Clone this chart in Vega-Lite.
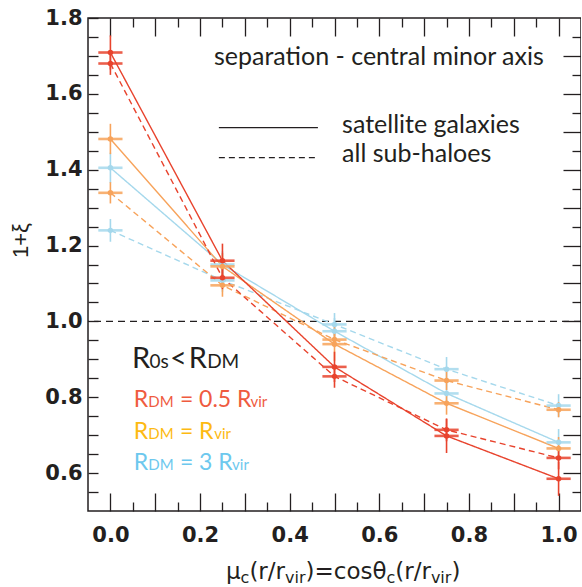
{
  "$schema": "https://vega.github.io/schema/vega-lite/v6.json",
  "autosize": {"type": "none"},
  "padding": {"left": 88, "top": 18, "right": 0, "bottom": 76},
  "width": 493,
  "height": 493,
  "config": {
    "view": {"stroke": "#231F20", "strokeWidth": 1.5},
    "axis": {"grid": false, "domain": false, "tickColor": "#231F20", "tickWidth": 1.3, "labelColor": "#231F20", "title": null}
  },
  "resolve": {"axis": {"x": "independent", "y": "independent"}},
  "datasets": {
    "pts": [
      {"x": 0, "y": 1.405, "lo": 1.365, "hi": 1.445, "xl": -0.027, "xh": 0.027, "m": "3", "k": "sat"},
      {"x": 0.25, "y": 1.15, "lo": 1.115, "hi": 1.185, "xl": 0.223, "xh": 0.277, "m": "3", "k": "sat"},
      {"x": 0.5, "y": 0.974, "lo": 0.939, "hi": 1.009, "xl": 0.473, "xh": 0.527, "m": "3", "k": "sat"},
      {"x": 0.75, "y": 0.81, "lo": 0.78, "hi": 0.84, "xl": 0.723, "xh": 0.777, "m": "3", "k": "sat"},
      {"x": 1.0, "y": 0.681, "lo": 0.646, "hi": 0.716, "xl": 0.973, "xh": 1.027, "m": "3", "k": "sat"},
      {"x": 0, "y": 1.24, "lo": 1.21, "hi": 1.27, "xl": -0.027, "xh": 0.027, "m": "3", "k": "sub"},
      {"x": 0.25, "y": 1.108, "lo": 1.078, "hi": 1.138, "xl": 0.223, "xh": 0.277, "m": "3", "k": "sub"},
      {"x": 0.5, "y": 0.992, "lo": 0.962, "hi": 1.022, "xl": 0.473, "xh": 0.527, "m": "3", "k": "sub"},
      {"x": 0.75, "y": 0.874, "lo": 0.842, "hi": 0.906, "xl": 0.723, "xh": 0.777, "m": "3", "k": "sub"},
      {"x": 1.0, "y": 0.778, "lo": 0.748, "hi": 0.808, "xl": 0.973, "xh": 1.027, "m": "3", "k": "sub"},
      {"x": 0, "y": 1.481, "lo": 1.441, "hi": 1.521, "xl": -0.027, "xh": 0.027, "m": "1", "k": "sat"},
      {"x": 0.25, "y": 1.145, "lo": 1.11, "hi": 1.18, "xl": 0.223, "xh": 0.277, "m": "1", "k": "sat"},
      {"x": 0.5, "y": 0.94, "lo": 0.895, "hi": 0.985, "xl": 0.473, "xh": 0.527, "m": "1", "k": "sat"},
      {"x": 0.75, "y": 0.784, "lo": 0.754, "hi": 0.814, "xl": 0.723, "xh": 0.777, "m": "1", "k": "sat"},
      {"x": 1.0, "y": 0.665, "lo": 0.635, "hi": 0.695, "xl": 0.973, "xh": 1.027, "m": "1", "k": "sat"},
      {"x": 0, "y": 1.339, "lo": 1.311, "hi": 1.367, "xl": -0.027, "xh": 0.027, "m": "1", "k": "sub"},
      {"x": 0.25, "y": 1.095, "lo": 1.065, "hi": 1.125, "xl": 0.223, "xh": 0.277, "m": "1", "k": "sub"},
      {"x": 0.5, "y": 0.952, "lo": 0.932, "hi": 0.972, "xl": 0.473, "xh": 0.527, "m": "1", "k": "sub"},
      {"x": 0.75, "y": 0.844, "lo": 0.819, "hi": 0.869, "xl": 0.723, "xh": 0.777, "m": "1", "k": "sub"},
      {"x": 1.0, "y": 0.767, "lo": 0.747, "hi": 0.787, "xl": 0.973, "xh": 1.027, "m": "1", "k": "sub"},
      {"x": 0, "y": 1.709, "lo": 1.664, "hi": 1.754, "xl": -0.027, "xh": 0.027, "m": "0.5", "k": "sat"},
      {"x": 0.25, "y": 1.16, "lo": 1.115, "hi": 1.205, "xl": 0.223, "xh": 0.277, "m": "0.5", "k": "sat"},
      {"x": 0.5, "y": 0.88, "lo": 0.84, "hi": 0.92, "xl": 0.473, "xh": 0.527, "m": "0.5", "k": "sat"},
      {"x": 0.75, "y": 0.698, "lo": 0.653, "hi": 0.743, "xl": 0.723, "xh": 0.777, "m": "0.5", "k": "sat"},
      {"x": 1.0, "y": 0.585, "lo": 0.54, "hi": 0.63, "xl": 0.973, "xh": 1.027, "m": "0.5", "k": "sat"},
      {"x": 0, "y": 1.68, "lo": 1.65, "hi": 1.71, "xl": -0.027, "xh": 0.027, "m": "0.5", "k": "sub"},
      {"x": 0.25, "y": 1.115, "lo": 1.085, "hi": 1.145, "xl": 0.223, "xh": 0.277, "m": "0.5", "k": "sub"},
      {"x": 0.5, "y": 0.855, "lo": 0.825, "hi": 0.885, "xl": 0.473, "xh": 0.527, "m": "0.5", "k": "sub"},
      {"x": 0.75, "y": 0.714, "lo": 0.684, "hi": 0.744, "xl": 0.723, "xh": 0.777, "m": "0.5", "k": "sub"},
      {"x": 1.0, "y": 0.64, "lo": 0.61, "hi": 0.67, "xl": 0.973, "xh": 1.027, "m": "0.5", "k": "sub"}
    ],
    "txt": [
      {"t": "separation - central minor axis", "x": 0.231, "y": 1.6765, "g": "note"},
      {"t": "satellite galaxies", "x": 0.517, "y": 1.498, "g": "note"},
      {"t": "all sub-haloes", "x": 0.517, "y": 1.419, "g": "note"},
      {"t": "R", "x": 0.048, "y": 0.8765, "g": "hd"},
      {"t": "0s", "x": 0.0873, "y": 0.8765, "g": "hds"},
      {"t": "<", "x": 0.1329, "y": 0.8765, "g": "hd"},
      {"t": "R", "x": 0.175, "y": 0.8765, "g": "hd"},
      {"t": "DM", "x": 0.2158, "y": 0.8765, "g": "hds"},
      {"t": "R", "x": 0.052, "y": 0.775, "g": "r"},
      {"t": "DM", "x": 0.0844, "y": 0.775, "g": "rs"},
      {"t": "= 0.5 R", "x": 0.155, "y": 0.775, "g": "r"},
      {"t": "vir", "x": 0.3125, "y": 0.775, "g": "rs"},
      {"t": "R", "x": 0.052, "y": 0.69, "g": "o"},
      {"t": "DM", "x": 0.0844, "y": 0.69, "g": "os"},
      {"t": "= R", "x": 0.155, "y": 0.69, "g": "o"},
      {"t": "vir", "x": 0.2315, "y": 0.69, "g": "os"},
      {"t": "R", "x": 0.052, "y": 0.608, "g": "b"},
      {"t": "DM", "x": 0.0844, "y": 0.608, "g": "bs"},
      {"t": "= 3 R", "x": 0.155, "y": 0.608, "g": "b"},
      {"t": "vir", "x": 0.2715, "y": 0.608, "g": "bs"},
      {"t": "μ", "x": 0.2579, "y": 0.3206, "g": "ax"},
      {"t": "c", "x": 0.2905, "y": 0.3114, "g": "axs"},
      {"t": "(r/r", "x": 0.3101, "y": 0.3206, "g": "ax"},
      {"t": "vir", "x": 0.3896, "y": 0.3114, "g": "axs"},
      {"t": ")=cosθ", "x": 0.4353, "y": 0.3206, "g": "ax"},
      {"t": "c", "x": 0.616, "y": 0.3114, "g": "axs"},
      {"t": "(r/r", "x": 0.6356, "y": 0.3206, "g": "ax"},
      {"t": "vir", "x": 0.7151, "y": 0.3114, "g": "axs"},
      {"t": ")", "x": 0.7608, "y": 0.3206, "g": "ax"}
    ]
  },
  "layer": [
    {
      "data": {"values": [{"y": 1.0}]},
      "mark": {"type": "rule", "color": "#231F20", "strokeWidth": 1.3, "strokeDash": [7, 5]},
      "encoding": {"y": {"field": "y", "type": "quantitative", "axis": null}}
    },
    {
      "data": {"name": "pts"},
      "mark": {"type": "line", "strokeWidth": 1.4},
      "encoding": {
        "x": {"field": "x", "type": "quantitative", "scale": {"domain": [-0.05, 1.05], "nice": false, "zero": false},
          "axis": {"orient": "bottom", "values": [0, 0.1, 0.2, 0.3, 0.4, 0.5, 0.6, 0.7, 0.8, 0.9, 1.0], "tickSize": -18, "labelPadding": 31,
            "labelExpr": "abs(datum.value*5 - round(datum.value*5)) < 0.001 ? format(datum.value, '.1f') : ''",
            "labelFont": "DejaVu Sans", "labelFontWeight": "bold", "labelFontSize": 21}},
        "y": {"field": "y", "type": "quantitative", "scale": {"domain": [0.5, 1.8], "nice": false, "zero": false},
          "axis": {"orient": "left", "values": [0.55, 0.6, 0.65, 0.7, 0.75, 0.8, 0.85, 0.9, 0.95, 1.0, 1.05, 1.1, 1.15, 1.2, 1.25, 1.3, 1.35, 1.4, 1.45, 1.5, 1.55, 1.6, 1.65, 1.7, 1.75, 1.8], "tickSize": -10, "labelPadding": 16,
            "labelExpr": "abs(datum.value*5 - round(datum.value*5)) < 0.001 ? format(datum.value, '.1f') : ''",
            "labelFont": "DejaVu Sans", "labelFontWeight": "bold", "labelFontSize": 21,
            "title": "1+ξ", "titleFont": "Liberation Sans", "titleFontWeight": "normal", "titleFontSize": 22, "titleColor": "#231F20",
            "titleX": -68, "titleY": 222, "titleAngle": -90, "titleAlign": "center", "titleBaseline": "middle"}},
        "color": {"field": "m", "type": "nominal", "scale": {"domain": ["3", "1", "0.5"], "range": ["#A5D8EC", "#F7A35B", "#E8432D"]}, "legend": null},
        "strokeDash": {"field": "k", "type": "nominal", "scale": {"domain": ["sat", "sub"], "range": [[1, 0], [6, 4]]}, "legend": null}
      }
    },
    {
      "data": {"name": "pts"},
      "mark": {"type": "rule", "strokeWidth": 1.6},
      "encoding": {
        "x": {"field": "x", "type": "quantitative",
          "axis": {"orient": "bottom", "values": [0.05, 0.15, 0.25, 0.35, 0.45, 0.55, 0.65, 0.75, 0.85, 0.95], "tickSize": -9, "labels": false}},
        "y": {"field": "lo", "type": "quantitative",
          "axis": {"orient": "right", "values": [0.6, 0.7, 0.8, 0.9, 1.0, 1.1, 1.2, 1.3, 1.4, 1.5, 1.6, 1.7], "tickSize": -18, "labels": false}},
        "y2": {"field": "hi"},
        "color": {"field": "m", "type": "nominal", "legend": null}
      }
    },
    {
      "data": {"name": "pts"},
      "mark": {"type": "rule", "strokeWidth": 2.6, "opacity": 0.85},
      "encoding": {
        "x": {"field": "xl", "type": "quantitative",
          "axis": {"orient": "top", "values": [0, 0.1, 0.2, 0.3, 0.4, 0.5, 0.6, 0.7, 0.8, 0.9, 1.0], "tickSize": -18, "labels": false}},
        "x2": {"field": "xh"},
        "y": {"field": "y", "type": "quantitative",
          "axis": {"orient": "right", "values": [0.55, 0.65, 0.75, 0.85, 0.95, 1.05, 1.15, 1.25, 1.35, 1.45, 1.55, 1.65, 1.75], "tickSize": -9, "labels": false}},
        "color": {"field": "m", "type": "nominal", "legend": null}
      }
    },
    {
      "data": {"name": "pts"},
      "mark": {"type": "circle", "size": 30, "opacity": 1},
      "encoding": {
        "x": {"field": "x", "type": "quantitative",
          "axis": {"orient": "top", "values": [0.05, 0.15, 0.25, 0.35, 0.45, 0.55, 0.65, 0.75, 0.85, 0.95], "tickSize": -9, "labels": false}},
        "y": {"field": "y", "type": "quantitative", "axis": null},
        "color": {"field": "m", "type": "nominal", "legend": null}
      }
    },
    {
      "data": {"values": [{"x": 0.242, "x2": 0.463, "y": 1.511, "k": "sat"}, {"x": 0.242, "x2": 0.463, "y": 1.432, "k": "sub"}]},
      "mark": {"type": "rule", "color": "#231F20", "strokeWidth": 1.2},
      "encoding": {
        "x": {"field": "x", "type": "quantitative", "axis": null},
        "x2": {"field": "x2"},
        "y": {"field": "y", "type": "quantitative", "axis": null},
        "strokeDash": {"field": "k", "type": "nominal", "legend": null}
      }
    },
    {"data": {"name": "txt"}, "transform": [{"filter": "datum.g == 'note'"}],
      "mark": {"type": "text", "align": "left", "baseline": "alphabetic", "font": "Lato", "fontSize": 25, "color": "#231F20"},
      "encoding": {"x": {"field": "x", "type": "quantitative", "axis": null}, "y": {"field": "y", "type": "quantitative", "axis": null}, "text": {"field": "t"}}},
    {"data": {"name": "txt"}, "transform": [{"filter": "datum.g == 'hd'"}],
      "mark": {"type": "text", "align": "left", "baseline": "alphabetic", "font": "Lato", "fontSize": 29, "color": "#231F20"},
      "encoding": {"x": {"field": "x", "type": "quantitative", "axis": null}, "y": {"field": "y", "type": "quantitative", "axis": null}, "text": {"field": "t"}}},
    {"data": {"name": "txt"}, "transform": [{"filter": "datum.g == 'hds'"}],
      "mark": {"type": "text", "align": "left", "baseline": "alphabetic", "font": "Lato", "fontSize": 19, "color": "#231F20"},
      "encoding": {"x": {"field": "x", "type": "quantitative", "axis": null}, "y": {"field": "y", "type": "quantitative", "axis": null}, "text": {"field": "t"}}},
    {"data": {"name": "txt"}, "transform": [{"filter": "datum.g == 'r'"}],
      "mark": {"type": "text", "align": "left", "baseline": "alphabetic", "font": "Lato", "fontSize": 23, "color": "#EF5B3F"},
      "encoding": {"x": {"field": "x", "type": "quantitative", "axis": null}, "y": {"field": "y", "type": "quantitative", "axis": null}, "text": {"field": "t"}}},
    {"data": {"name": "txt"}, "transform": [{"filter": "datum.g == 'rs'"}],
      "mark": {"type": "text", "align": "left", "baseline": "alphabetic", "font": "Lato", "fontSize": 15, "color": "#EF5B3F"},
      "encoding": {"x": {"field": "x", "type": "quantitative", "axis": null}, "y": {"field": "y", "type": "quantitative", "axis": null}, "text": {"field": "t"}}},
    {"data": {"name": "txt"}, "transform": [{"filter": "datum.g == 'o'"}],
      "mark": {"type": "text", "align": "left", "baseline": "alphabetic", "font": "Lato", "fontSize": 23, "color": "#FDBA12"},
      "encoding": {"x": {"field": "x", "type": "quantitative", "axis": null}, "y": {"field": "y", "type": "quantitative", "axis": null}, "text": {"field": "t"}}},
    {"data": {"name": "txt"}, "transform": [{"filter": "datum.g == 'os'"}],
      "mark": {"type": "text", "align": "left", "baseline": "alphabetic", "font": "Lato", "fontSize": 15, "color": "#FDBA12"},
      "encoding": {"x": {"field": "x", "type": "quantitative", "axis": null}, "y": {"field": "y", "type": "quantitative", "axis": null}, "text": {"field": "t"}}},
    {"data": {"name": "txt"}, "transform": [{"filter": "datum.g == 'b'"}],
      "mark": {"type": "text", "align": "left", "baseline": "alphabetic", "font": "Lato", "fontSize": 23, "color": "#6DC8EE"},
      "encoding": {"x": {"field": "x", "type": "quantitative", "axis": null}, "y": {"field": "y", "type": "quantitative", "axis": null}, "text": {"field": "t"}}},
    {"data": {"name": "txt"}, "transform": [{"filter": "datum.g == 'bs'"}],
      "mark": {"type": "text", "align": "left", "baseline": "alphabetic", "font": "Lato", "fontSize": 15, "color": "#6DC8EE"},
      "encoding": {"x": {"field": "x", "type": "quantitative", "axis": null}, "y": {"field": "y", "type": "quantitative", "axis": null}, "text": {"field": "t"}}},
    {"data": {"name": "txt"}, "transform": [{"filter": "datum.g == 'ax'"}],
      "mark": {"type": "text", "align": "left", "baseline": "alphabetic", "font": "DejaVu Sans", "fontSize": 23, "color": "#231F20"},
      "encoding": {"x": {"field": "x", "type": "quantitative", "axis": null}, "y": {"field": "y", "type": "quantitative", "axis": null}, "text": {"field": "t"}}},
    {"data": {"name": "txt"}, "transform": [{"filter": "datum.g == 'axs'"}],
      "mark": {"type": "text", "align": "left", "baseline": "alphabetic", "font": "DejaVu Sans", "fontSize": 16, "color": "#231F20"},
      "encoding": {"x": {"field": "x", "type": "quantitative", "axis": null}, "y": {"field": "y", "type": "quantitative", "axis": null}, "text": {"field": "t"}}}
  ]
}
